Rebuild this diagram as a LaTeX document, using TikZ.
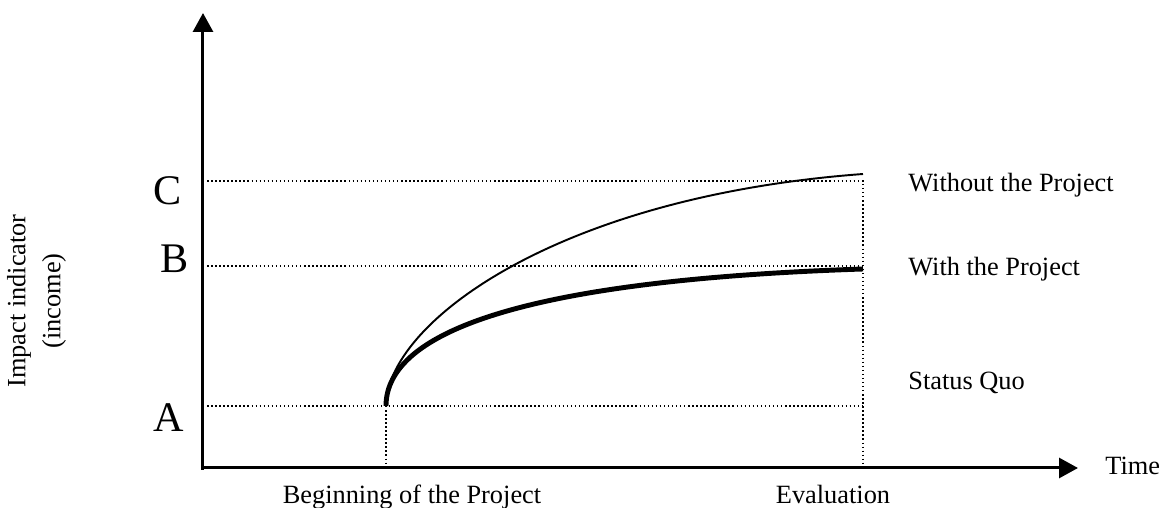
\documentclass[tikz,border=0pt]{standalone}
\usepackage{fontspec}
\setmainfont{Liberation Serif}
\usepackage{tikz}
\usetikzlibrary{arrows.meta}

\tikzset{
  axis/.style={line width=0.06cm, -{Triangle[length=0.38cm, width=0.4cm]}},
  guide/.style={line width=0.85pt, dash pattern=on 0.85pt off 1.45pt},
  label/.style={inner sep=0pt, anchor=base west, font=\fontsize{15}{18}\selectfont},
  level/.style={inner sep=0pt, anchor=base west, font=\fontsize{24}{28}\selectfont}
}

\begin{document}
\begin{tikzpicture}
            \def \tstart {3.66}
            \def \teval {13.2}
            \def \ya {1.24}
            \def \yb {4.04}
            \def \yc {5.74}

            \useasboundingbox (-4.06,-0.8) rectangle (19.14,9.36);

            \coordinate (O) at (0,0);
            \coordinate (ytop) at (0,9.1);
            \coordinate (xend) at (17.5,0);
            \coordinate (start) at (\tstart,\ya);
            \coordinate (startbot) at (\tstart,0);
            \coordinate (levelA) at (0,\ya);
            \coordinate (levelB) at (0,\yb);
            \coordinate (levelC) at (0,\yc);
            \coordinate (evalA) at (\teval,\ya);
            \coordinate (evalB) at (\teval,\yb);
            \coordinate (evalC) at (\teval,\yc);
            \coordinate (evalbot) at (\teval,0);
            \coordinate (endwithout) at (\teval,5.88);
            \coordinate (endwith) at (\teval,3.98);

            \draw[guide] (levelC) -- (evalC) -- (evalbot);
            \draw[guide] (levelB) -- (evalB);
            \draw[guide] (levelA) -- (evalA);
            \draw[guide] (start) -- (startbot);

            \draw[axis] (0,-0.04) -- (ytop);
            \draw[axis] (O) -- (xend);

            \draw[line width=1.1pt] (start)
              .. controls (\tstart,2.86) and (7.0,5.42) .. (endwithout);
            \draw[line width=2.8pt] (start)
              .. controls (\tstart,2.75) and (6.52,3.76) .. (endwith);

            \node[level] (C) at (-1.0,5.26) {C};
            \node[level] (B) at (-0.86,3.9) {B};
            \node[level] (A) at (-1.0,0.72) {A};

            \node[label] (without) at (14.1,5.52) {Without the Project};
            \node[label] (with) at (14.1,3.84) {With the Project};
            \node[label] (quo) at (14.1,1.56) {Status Quo};
            \node[label] (time) at (18.04,-0.14) {Time};

            \node[label, anchor=base] (begin) at (4.18,-0.71) {Beginning of the Project};
            \node[label, anchor=base] (evaluation) at (12.6,-0.71) {Evaluation};

            \node[rotate=90, align=center, inner sep=0pt,
              font=\fontsize{15}{19.9}\selectfont] (impact) at (-3.33,3.34)
              {Impact indicator\\(income)};
          \end{tikzpicture}
\end{document}
